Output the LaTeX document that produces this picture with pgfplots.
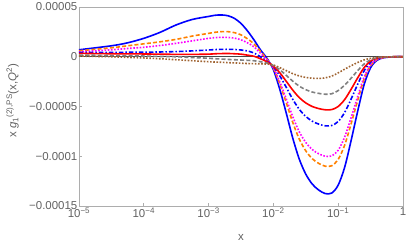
\documentclass[border=0pt]{standalone}
\usepackage{fontspec}
\setmainfont{Liberation Sans}
\usepackage{pgfplots}
\usepackage{pgfplotstable}
\pgfplotsset{compat=1.18}
\definecolor{framegray}{gray}{0.68}
\definecolor{labelgray}{gray}{0.38}
\definecolor{mmaorange}{RGB}{255,128,0}
\definecolor{mmamagenta}{RGB}{255,0,255}
\definecolor{mmabrown}{RGB}{160,100,50}
\definecolor{mmagray}{RGB}{128,128,128}

\pgfplotstableread{
x         b        o        m        d        r        g        w
1e-5      7.0e-6   6.0e-6   5.0e-6   4.4e-6   3.4e-6   1.7e-6   0.7e-6
3.162e-5  11.0e-6  9.0e-6   7.0e-6   4.4e-6   3.0e-6   1.2e-6   0.0e-6
5.623e-5  14.0e-6  11.0e-6  8.3e-6   4.5e-6   2.9e-6   1.0e-6   -0.6e-6
1e-4      18.5e-6  13.0e-6  9.5e-6   4.6e-6   2.8e-6   0.7e-6   -1.2e-6
1.778e-4  24.5e-6  15.0e-6  11.3e-6  4.8e-6   2.6e-6   0.3e-6   -2.0e-6
3.162e-4  32.0e-6  17.5e-6  13.5e-6  5.2e-6   2.4e-6   0.0e-6   -3.0e-6
5.623e-4  37.5e-6  20.8e-6  16.0e-6  5.9e-6   2.4e-6   -0.8e-6  -4.0e-6
1e-3      40.5e-6  23.5e-6  18.5e-6  6.8e-6   2.6e-6   -1.5e-6  -5.0e-6
1.259e-3  41.7e-6  24.6e-6  19.2e-6  7.2e-6   3.0e-6   -2.0e-6  -5.3e-6
1.585e-3  42.0e-6  25.2e-6  19.5e-6  7.4e-6   3.2e-6   -2.3e-6  -5.6e-6
1.995e-3  41.2e-6  25.2e-6  19.4e-6  7.5e-6   3.3e-6   -2.7e-6  -5.9e-6
2.512e-3  38.5e-6  24.2e-6  18.7e-6  7.3e-6   3.0e-6   -3.0e-6  -6.2e-6
3.162e-3  33.5e-6  22.0e-6  17.0e-6  6.8e-6   2.6e-6   -3.3e-6  -6.5e-6
3.981e-3  26.0e-6  18.0e-6  14.0e-6  5.8e-6   1.6e-6   -3.6e-6  -6.8e-6
5.012e-3  17.0e-6  13.0e-6  10.0e-6  3.8e-6   0.5e-6   -4.0e-6  -7.0e-6
6.310e-3  7.0e-6   5.5e-6   3.5e-6   0.0e-6   -2.0e-6  -5.0e-6  -7.2e-6
7.943e-3  -1.5e-6  -2.5e-6  -3.0e-6  -4.5e-6  -5.0e-6  -6.3e-6  -7.3e-6
0.01      -13.0e-6 -11.5e-6 -11.0e-6 -10.0e-6 -9.5e-6  -8.8e-6  -8.3e-6
0.01259   -33.0e-6 -27.5e-6 -25.5e-6 -19.4e-6 -16.2e-6 -13.1e-6 -11.0e-6
0.01585   -57.0e-6 -46.5e-6 -42.7e-6 -30.9e-6 -24.8e-6 -18.8e-6 -14.0e-6
0.01995   -82.0e-6 -66.2e-6 -60.5e-6 -42.9e-6 -33.6e-6 -24.6e-6 -17.0e-6
0.02512   -103.0e-6 -82.8e-6 -75.5e-6 -52.9e-6 -41.1e-6 -29.6e-6 -19.3e-6
0.03162   -118.0e-6 -94.6e-6 -86.1e-6 -60.0e-6 -46.4e-6 -33.1e-6 -20.8e-6
0.03981   -128.0e-6 -102.5e-6 -93.3e-6 -64.8e-6 -50.0e-6 -35.5e-6 -21.6e-6
0.05012   -134.0e-6 -107.2e-6 -97.5e-6 -67.7e-6 -52.1e-6 -36.8e-6 -21.8e-6
0.06310   -137.5e-6 -110.0e-6 -100.0e-6 -69.4e-6 -53.3e-6 -37.7e-6 -21.2e-6
0.07943   -137.0e-6 -109.6e-6 -99.7e-6 -69.1e-6 -53.1e-6 -37.2e-6 -19.5e-6
0.1       -129.0e-6 -103.2e-6 -93.9e-6 -65.1e-6 -50.0e-6 -34.0e-6 -16.2e-6
0.1259    -111.0e-6 -88.8e-6 -80.7e-6 -56.0e-6 -43.0e-6 -28.5e-6 -12.5e-6
0.1585    -84.0e-6 -67.2e-6 -61.1e-6 -42.4e-6 -32.6e-6 -21.5e-6 -9.0e-6
0.1995    -55.0e-6 -44.0e-6 -40.1e-6 -27.8e-6 -21.3e-6 -14.0e-6 -5.8e-6
0.2512    -28.0e-6 -22.4e-6 -20.4e-6 -14.1e-6 -10.9e-6 -7.3e-6  -3.2e-6
0.3162    -11.0e-6 -8.8e-6  -8.0e-6  -5.6e-6  -4.3e-6  -3.0e-6  -1.6e-6
0.3981    -3.5e-6  -2.8e-6  -2.5e-6  -1.7e-6  -1.3e-6  -1.0e-6  -0.7e-6
0.5012    -1.0e-6  -0.8e-6  -0.7e-6  -0.5e-6  -0.4e-6  -0.3e-6  -0.3e-6
0.6310    -0.3e-6  -0.2e-6  -0.2e-6  -0.1e-6  -0.1e-6  -0.1e-6  -0.1e-6
0.7943    0.0      0.0      0.0      0.0      0.0      0.0      0.0
1         0.0      0.0      0.0      0.0      0.0      0.0      0.0
}\datatable

\begin{document}
\begin{tikzpicture}
\begin{axis}[
  scale only axis,
  width=324bp, height=199bp,
  xmode=log, xmin=1e-5, xmax=1,
  ymin=-1.5e-4, ymax=5e-5,
  axis line style={framegray, line width=0.8bp},
  tick style={framegray, line width=0.6bp},
  major tick length=3.5bp,
  tick align=inside,
  xtick pos=bottom, ytick pos=left,
  xminorticks=false, yminorticks=false,
  xtick={1e-5,1e-4,1e-3,1e-2,1e-1,1},
  xticklabels={10\textsuperscript{−5},10\textsuperscript{−4},10\textsuperscript{−3},10\textsuperscript{−2},10\textsuperscript{−1},1},
  ytick={5e-5,0,-5e-5,-1e-4,-1.5e-4},
  yticklabels={0.00005,0,−0.00005,−0.0001,−0.00015},
  scaled y ticks=false,
  ticklabel style={font=\fontsize{11.5}{12}\selectfont, text=labelgray},
  xticklabel style={inner sep=1bp, yshift=-0.5bp},
  yticklabel style={inner sep=1.5bp},
  xlabel={x},
  ylabel={x \textit{g}\textsubscript{1}\textsuperscript{(2),PS}(x,\textit{Q}\textsuperscript{2})},
  label style={font=\fontsize{11.5}{12}\selectfont, text=labelgray},
  xlabel style={at={(axis description cs:0.5,0)}, anchor=center, yshift=-31bp},
  ylabel style={at={(axis description cs:-0.205,0.53)}, anchor=center},
  clip=true,
  every axis plot/.append style={line join=round},
]
\addplot[black!72, line width=0.9bp] coordinates {(1e-5,0) (1,0)};
\addplot[blue, line width=1.6bp, smooth] table[x=x,y=b] {\datatable};
\addplot[mmaorange, line width=1.6bp, smooth, dash pattern=on 4bp off 2.2bp] table[x=x,y=o] {\datatable};
\addplot[mmamagenta, line width=1.6bp, smooth, dash pattern=on 1.6bp off 1.6bp] table[x=x,y=m] {\datatable};
\addplot[blue, line width=1.6bp, smooth, dash pattern=on 4.5bp off 2bp on 1.5bp off 2bp] table[x=x,y=d] {\datatable};
\addplot[red, line width=1.6bp, smooth] table[x=x,y=r] {\datatable};
\addplot[mmagray, line width=1.6bp, smooth, dash pattern=on 4bp off 2.2bp] table[x=x,y=g] {\datatable};
\addplot[mmabrown, line width=1.6bp, smooth, dash pattern=on 1.6bp off 1.6bp] table[x=x,y=w] {\datatable};
\coordinate (bl) at (rel axis cs:0,0);
\coordinate (tr) at (rel axis cs:1,1);
\end{axis}
\pgfresetboundingbox
\path ([shift={(-79bp,-38bp)}]bl) rectangle ([shift={(4bp,7bp)}]tr);
\end{tikzpicture}
\end{document}
